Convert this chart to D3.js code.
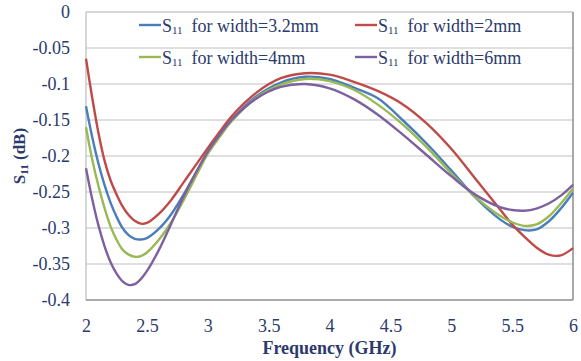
<!DOCTYPE html>
<html>
<head>
<meta charset="utf-8">
<script src="https://cdn.jsdelivr.net/npm/d3@7"></script>
<style>
  html, body { margin: 0; padding: 0; background: #ffffff; }
  svg { display: block; }
  .serif { font-family: "Liberation Serif", "Times New Roman", Times, serif; }
</style>
</head>
<body>
<svg id="chart" width="581" height="361"></svg>
<script>
// Frequency sweep (GHz)
const freq = [2.0, 2.05, 2.1, 2.15, 2.2, 2.25, 2.3, 2.35, 2.4, 2.45, 2.5, 2.6, 2.7, 2.8, 2.9,
              3.0, 3.1, 3.2, 3.4, 3.6, 3.8, 4.0, 4.2, 4.4, 4.6, 4.8, 5.0, 5.2, 5.4, 5.5, 5.6, 5.7, 5.8, 5.9, 6.0];

// S11 (dB) for each strip width
const s11Width32 = [-0.131, -0.173, -0.209, -0.239, -0.264, -0.284, -0.300, -0.310, -0.315, -0.316, -0.314, -0.301, -0.281, -0.254, -0.224,
                    -0.195, -0.171, -0.149, -0.117, -0.098, -0.090, -0.093, -0.105, -0.120, -0.150, -0.183, -0.220, -0.258, -0.288, -0.298, -0.303, -0.302, -0.291, -0.273, -0.251];
const s11Width2  = [-0.065, -0.118, -0.166, -0.205, -0.233, -0.253, -0.270, -0.282, -0.290, -0.294, -0.293, -0.280, -0.261, -0.237, -0.213,
                    -0.189, -0.166, -0.144, -0.112, -0.092, -0.085, -0.087, -0.097, -0.110, -0.128, -0.155, -0.190, -0.232, -0.274, -0.295, -0.312, -0.327, -0.337, -0.338, -0.328];
const s11Width4  = [-0.160, -0.204, -0.240, -0.271, -0.297, -0.316, -0.330, -0.337, -0.340, -0.339, -0.334, -0.316, -0.292, -0.262, -0.229,
                    -0.197, -0.173, -0.151, -0.119, -0.101, -0.093, -0.096, -0.108, -0.129, -0.156, -0.188, -0.224, -0.257, -0.283, -0.292, -0.297, -0.295, -0.284, -0.266, -0.245];
const s11Width6  = [-0.217, -0.259, -0.295, -0.324, -0.347, -0.363, -0.374, -0.379, -0.378, -0.371, -0.360, -0.330, -0.294, -0.257, -0.224,
                    -0.194, -0.170, -0.149, -0.120, -0.104, -0.100, -0.106, -0.121, -0.143, -0.170, -0.199, -0.228, -0.254, -0.271, -0.275, -0.276, -0.273, -0.266, -0.255, -0.240];

const seriesNames  = ["for width=3.2mm", "for width=2mm", "for width=4mm", "for width=6mm"];
const seriesColors = ["#4a7ebb", "#be4b48", "#98b954", "#7d60a0"];

const xTicks = [2, 2.5, 3, 3.5, 4, 4.5, 5, 5.5, 6];
const xTickLabels = ["2", "2.5", "3", "3.5", "4", "4.5", "5", "5.5", "6"];
const yTicks = [0, -0.05, -0.1, -0.15, -0.2, -0.25, -0.3, -0.35, -0.4];
const yTickLabels = ["0", "-0.05", "-0.1", "-0.15", "-0.2", "-0.25", "-0.3", "-0.35", "-0.4"];

const series = [s11Width32, s11Width2, s11Width4, s11Width6];

const svg = d3.select("#chart");
const plot = { left: 86, right: 573, top: 12, bottom: 300 };
const textColor = "#2b3a6c";

const x = d3.scaleLinear().domain([2, 6]).range([plot.left, plot.right]);
const y = d3.scaleLinear().domain([-0.4, 0]).range([plot.bottom, plot.top]);

// Horizontal gridlines
svg.append("g")
  .selectAll("line")
  .data(yTicks.filter(v => v !== -0.4 && v !== 0))
  .join("line")
  .attr("x1", plot.left).attr("x2", plot.right)
  .attr("y1", d => y(d)).attr("y2", d => y(d))
  .attr("stroke", "#d4d4d4")
  .attr("stroke-width", 1.5);

// Plot frame
svg.append("line")
  .attr("x1", plot.left).attr("x2", plot.right)
  .attr("y1", y(0)).attr("y2", y(0))
  .attr("stroke", "#c8c8c8").attr("stroke-width", 1.5);
svg.append("line")
  .attr("x1", x(6)).attr("x2", x(6))
  .attr("y1", plot.top).attr("y2", plot.bottom)
  .attr("stroke", "#8c8c8c").attr("stroke-width", 1.5);
svg.append("line")
  .attr("x1", x(2)).attr("x2", x(2))
  .attr("y1", plot.top).attr("y2", plot.bottom)
  .attr("stroke", "#c8c8c8").attr("stroke-width", 1.5);
svg.append("line")
  .attr("x1", plot.left).attr("x2", plot.right)
  .attr("y1", y(-0.4)).attr("y2", y(-0.4))
  .attr("stroke", "#8c8c8c").attr("stroke-width", 1.5);

// Y axis labels
const yAxis = d3.axisLeft(y)
  .tickValues(yTicks)
  .tickFormat((d, i) => yTickLabels[i])
  .tickSize(0)
  .tickPadding(16);
const gy = svg.append("g").attr("transform", `translate(${plot.left},0)`).call(yAxis);
gy.attr("font-family", null).attr("font-size", null);
gy.select(".domain").remove();
gy.selectAll("text")
  .attr("class", "serif")
  .attr("fill", textColor)
  .style("font-size", "18px");

// X axis labels
const xAxis = d3.axisBottom(x)
  .tickValues(xTicks)
  .tickFormat((d, i) => xTickLabels[i])
  .tickSize(0)
  .tickPadding(19);
const gx = svg.append("g").attr("transform", `translate(0,${plot.bottom})`).call(xAxis);
gx.attr("font-family", null).attr("font-size", null);
gx.select(".domain").remove();
gx.selectAll("text")
  .attr("class", "serif")
  .attr("fill", textColor)
  .style("font-size", "18px");

// Axis titles
svg.append("text")
  .attr("class", "serif")
  .attr("x", (plot.left + plot.right) / 2)
  .attr("y", 354)
  .attr("text-anchor", "middle")
  .attr("fill", textColor)
  .style("font-size", "18px")
  .style("font-weight", "bold")
  .text("Frequency (GHz)");

const yTitle = svg.append("text")
  .attr("class", "serif")
  .attr("transform", `translate(25,${(plot.top + plot.bottom) / 2}) rotate(-90)`)
  .attr("text-anchor", "middle")
  .attr("fill", textColor)
  .style("font-size", "17px")
  .style("font-weight", "bold");
yTitle.append("tspan").text("S");
yTitle.append("tspan").attr("dy", 3).style("font-size", "11px").text("11");
yTitle.append("tspan").attr("dy", -3).text(" (dB)");

// Curves
const line = d3.line()
  .x(d => x(d[0]))
  .y(d => y(d[1]))
  .curve(d3.curveCatmullRom.alpha(0.5));

svg.append("g")
  .selectAll("path")
  .data(series)
  .join("path")
  .attr("d", vals => line(freq.map((f, i) => [f, vals[i]])))
  .attr("fill", "none")
  .attr("stroke", (d, i) => seriesColors[i])
  .attr("stroke-width", 2.4)
  .attr("stroke-linejoin", "round");

// Legend (two columns, two rows)
const legendPos = [
  { lx: 139, ly: 25 },
  { lx: 355, ly: 25 },
  { lx: 139, ly: 57 },
  { lx: 355, ly: 57 }
];
const legend = svg.append("g");
seriesNames.forEach((name, i) => {
  const p = legendPos[i];
  legend.append("line")
    .attr("x1", p.lx).attr("x2", p.lx + 22)
    .attr("y1", p.ly).attr("y2", p.ly)
    .attr("stroke", seriesColors[i])
    .attr("stroke-width", 2.4);
  const t = legend.append("text")
    .attr("class", "serif")
    .attr("x", p.lx + 23)
    .attr("y", p.ly + 7)
    .attr("fill", textColor)
    .style("font-size", "18px");
  t.append("tspan").text("S");
  t.append("tspan").attr("dy", 2).style("font-size", "11px").text("11");
  t.append("tspan").attr("dy", -2).text("\u00a0 " + name);
});
</script>
</body>
</html>
